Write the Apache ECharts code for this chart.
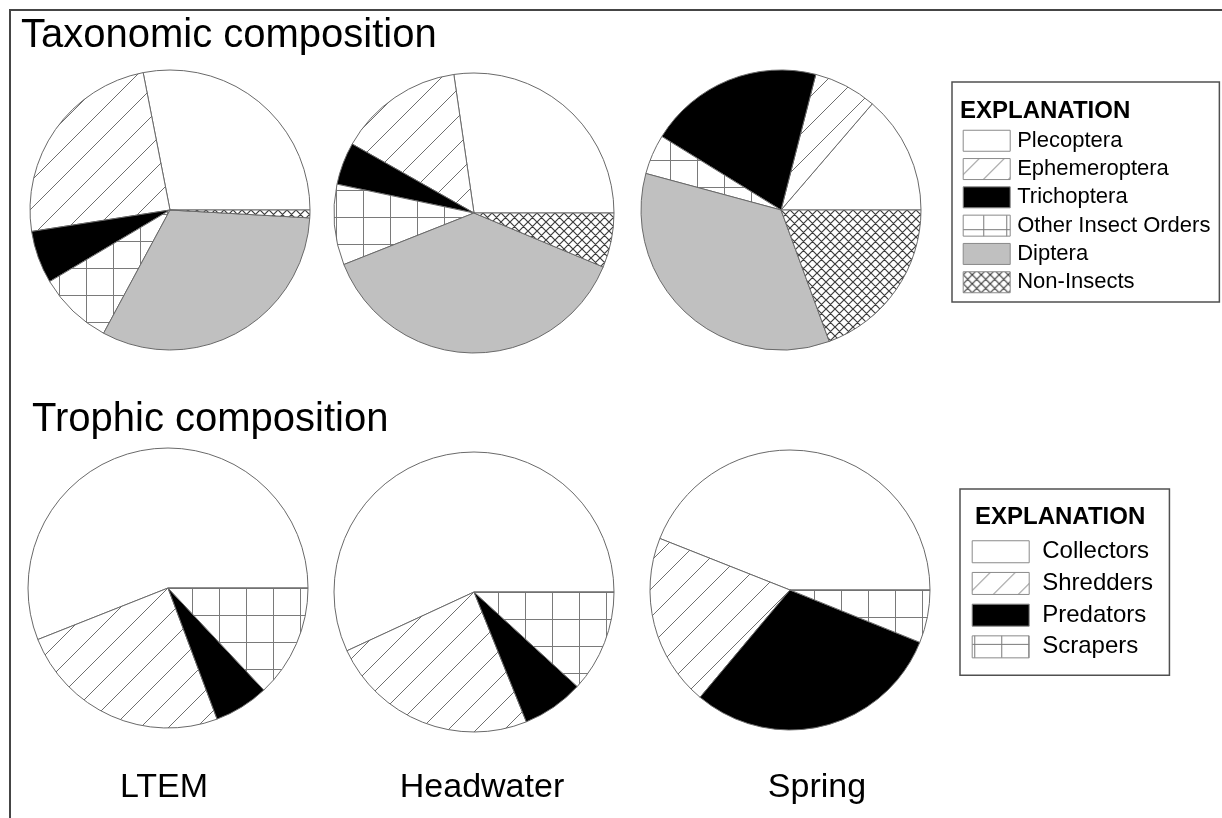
<!DOCTYPE html>
<html>
<head>
<meta charset="utf-8">
<title>Macroinvertebrate composition</title>
<script src="https://cdn.jsdelivr.net/npm/echarts@6/dist/echarts.min.js"></script>
<style>
html, body { margin: 0; padding: 0; background: #fff; }
#chart { width: 1222px; height: 818px; }
</style>
</head>
<body>
<div id="chart"></div>
<script>
// Sites, one pie per site in each row
const sites = ['LTEM', 'Headwater', 'Spring'];

// Taxonomic composition (percent of individuals)
const taxaNames = ['Plecoptera', 'Ephemeroptera', 'Trichoptera', 'Other Insect Orders', 'Diptera', 'Non-Insects'];
const taxaLTEM = [28.1, 24.4, 6.1, 8.6, 32.0, 0.9];
const taxaHeadwater = [27.3, 14.5, 4.9, 9.3, 37.7, 6.3];
const taxaSpring = [13.7, 7.3, 20.2, 4.6, 34.8, 19.4];

// Trophic (functional feeding group) composition (percent)
const trophicNames = ['Collectors', 'Shredders', 'Predators', 'Scrapers'];
const trophicLTEM = [56.0, 24.7, 6.3, 13.0];
const trophicHeadwater = [56.9, 24.2, 7.1, 11.8];
const trophicSpring = [44.0, 19.9, 30.0, 6.1];

// Row titles and legend heading
const rowTitles = ['Taxonomic composition', 'Trophic composition'];
const legendHeading = 'EXPLANATION';

// ---- layout (pixels) ----
const FONT = '"Liberation Sans", Arial, Helvetica, sans-serif';
const taxaCenters = [[170, 210], [474, 213], [781, 210]];
const trophicCenters = [[168, 588], [474, 592], [790, 590]];
const pieRadius = 140;
const siteLabelX = [164, 482, 817];
const siteLabelY = 788;

// ---- fill patterns ----
function tile(size, draw) {
  const c = document.createElement('canvas');
  c.width = size; c.height = size;
  const g = c.getContext('2d');
  g.fillStyle = '#ffffff';
  g.fillRect(0, 0, size, size);
  draw(g, size);
  return c;
}
// "/" hatch: lines y = -x + k*s
function makeHatch(s, color) {
  return tile(s, (g) => {
    g.strokeStyle = color; g.lineWidth = 1;
    g.beginPath();
    for (let k = 0; k <= 2; k++) {
      g.moveTo(-1, k * s + 1);
      g.lineTo(s + 1, k * s - s - 1);
    }
    g.stroke();
  });
}
// square grid
function makeGrid(s, color) {
  return tile(s, (g) => {
    g.strokeStyle = color; g.lineWidth = 1;
    g.beginPath();
    g.moveTo(0.5, 0); g.lineTo(0.5, s);
    g.moveTo(0, 0.5); g.lineTo(s, 0.5);
    g.stroke();
  });
}
// diagonal cross-hatch
function makeCross(s, color, w) {
  return tile(s, (g) => {
    g.strokeStyle = color; g.lineWidth = w;
    g.beginPath();
    for (let k = -1; k <= 2; k++) {
      g.moveTo(-1, k * s + 1); g.lineTo(s + 1, k * s - s - 1);
      g.moveTo(-1, k * s - 1); g.lineTo(s + 1, k * s + s + 1);
    }
    g.stroke();
  });
}
const hatchImg = makeHatch(28, '#6f6f6f');
const gridImg = makeGrid(27, '#7a7a7a');
const crossImg = makeCross(9, '#3c3c3c', 1.2);
const legendHatchImg = makeHatch(25, '#6f6f6f');
const legendGridImg = makeGrid(23, '#7a7a7a');

function pattern(img, x, y) {
  return { image: img, repeat: 'repeat', x: x, y: y };
}

function taxaFills(c) {
  const [cx, cy] = c;
  return ['#ffffff', pattern(hatchImg, cx, cy), '#000000',
    pattern(gridImg, cx + 24, cy + 4), '#c0c0c0', pattern(crossImg, cx, cy)];
}
function trophicFills(c) {
  const [cx, cy] = c;
  return ['#ffffff', pattern(hatchImg, cx, cy), '#000000', pattern(gridImg, cx + 24, cy)];
}

function pieSeries(site, names, values, center, fills) {
  return {
    type: 'pie',
    name: site,
    center: center,
    radius: pieRadius,
    startAngle: 0,
    clockwise: false,
    silent: true,
    emphasis: { disabled: true },
    label: { show: false },
    labelLine: { show: false },
    itemStyle: { borderColor: '#6a6a6a', borderWidth: 1 },
    data: names.map((n, i) => ({ name: n, value: values[i], itemStyle: { color: fills[i] } }))
  };
}

const taxaValues = [taxaLTEM, taxaHeadwater, taxaSpring];
const trophicValues = [trophicLTEM, trophicHeadwater, trophicSpring];

const series = [];
sites.forEach((s, i) => {
  series.push(pieSeries(s, taxaNames, taxaValues[i], taxaCenters[i], taxaFills(taxaCenters[i])));
});
sites.forEach((s, i) => {
  series.push(pieSeries(s, trophicNames, trophicValues[i], trophicCenters[i], trophicFills(trophicCenters[i])));
});

// legend swatch fills
const taxaSwatch = ['#ffffff', pattern(legendHatchImg, 962, 154), '#000000',
  pattern(legendGridImg, 986, 221), '#c0c0c0', pattern(crossImg, 963, 264)];
const trophicSwatch = ['#ffffff', pattern(legendHatchImg, 972, 596), '#000000',
  pattern(gridImg, 974, 656)];

function legendData(names, fills) {
  return names.map((n, i) => ({
    name: n,
    itemStyle: { color: fills[i], borderColor: '#8a8a8a', borderWidth: 1 }
  }));
}

const option = {
  animation: false,
  backgroundColor: '#ffffff',
  legend: [
    {
      orient: 'vertical', left: 952, top: 82,
      padding: [44.6, 9, 5.6, 10.7],
      icon: 'rect', itemWidth: 47, itemHeight: 21, itemGap: 0,
      selectedMode: false,
      backgroundColor: '#ffffff', borderColor: '#505050', borderWidth: 1.5,
      textStyle: { color: '#000', fontFamily: FONT, fontSize: 22, lineHeight: 28.3, padding: [0, 0, 0, 2] },
      data: legendData(taxaNames, taxaSwatch)
    },
    {
      orient: 'vertical', left: 960, top: 489,
      padding: [46.9, 16.5, 12.5, 11.7],
      icon: 'rect', itemWidth: 57, itemHeight: 22, itemGap: 0,
      selectedMode: false,
      backgroundColor: '#ffffff', borderColor: '#505050', borderWidth: 1.5,
      textStyle: { color: '#000', fontFamily: FONT, fontSize: 24, lineHeight: 31.7, padding: [0, 0, 0, 8] },
      data: legendData(trophicNames, trophicSwatch)
    }
  ],
  graphic: [
    {
      type: 'polyline', silent: true, z: 10,
      shape: { points: [[10, 818], [10, 10], [1222, 10]] },
      style: { stroke: '#454545', lineWidth: 2, fill: null }
    },
    {
      type: 'text', x: 21, y: 36, z: 10,
      style: { text: rowTitles[0], font: '40px ' + FONT, fill: '#000', textAlign: 'left', textVerticalAlign: 'middle' }
    },
    {
      type: 'text', x: 32, y: 420, z: 10,
      style: { text: rowTitles[1], font: '40px ' + FONT, fill: '#000', textAlign: 'left', textVerticalAlign: 'middle' }
    },
    {
      type: 'text', x: 960, y: 111, z: 10,
      style: { text: legendHeading, font: 'bold 24px ' + FONT, fill: '#000', textAlign: 'left', textVerticalAlign: 'middle' }
    },
    {
      type: 'text', x: 975, y: 517, z: 10,
      style: { text: legendHeading, font: 'bold 24px ' + FONT, fill: '#000', textAlign: 'left', textVerticalAlign: 'middle' }
    }
  ].concat(sites.map((s, i) => ({
    type: 'text', x: siteLabelX[i], y: siteLabelY, z: 10,
    style: { text: s, font: '34px ' + FONT, fill: '#000', textAlign: 'center', textVerticalAlign: 'middle' }
  }))),
  series: series
};

const chart = echarts.init(document.getElementById('chart'));
chart.setOption(option);
</script>
</body>
</html>
